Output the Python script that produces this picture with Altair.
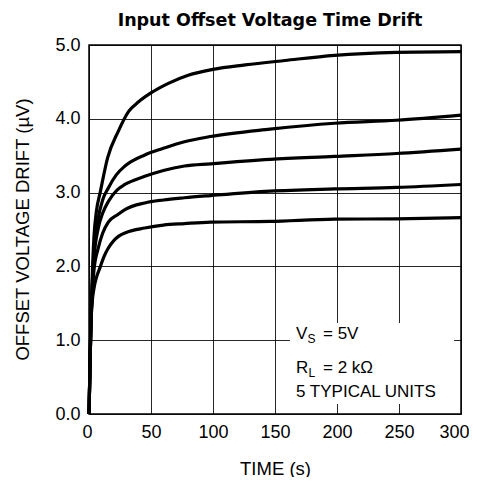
import altair as alt
import pandas as pd

# ---- data ----
t1 = [0, 1.5, 2.5, 4, 6, 9, 15, 23.6, 32, 40, 49, 64, 80, 100, 126, 158, 198, 248, 300]
v1 = [0, 1.2, 1.8, 2.4, 2.75, 3.0, 3.47, 3.83, 4.1, 4.23, 4.34, 4.48, 4.59, 4.67, 4.73, 4.79, 4.86, 4.9, 4.91]

t2 = [0, 1.5, 2.5, 4, 7.5, 11, 15.5, 22, 29, 45, 60, 77, 98, 146, 198, 248, 300]
v2 = [0, 1.2, 1.7, 2.2, 2.66, 2.9, 3.06, 3.24, 3.36, 3.51, 3.60, 3.69, 3.76, 3.86, 3.94, 3.98, 4.05]

t3 = [0, 1.5, 2.5, 4, 7.5, 11, 15.6, 23, 29, 45, 60, 77, 98, 146, 198, 248, 300]
v3 = [0, 1.2, 1.65, 2.1, 2.52, 2.72, 2.88, 3.04, 3.11, 3.22, 3.30, 3.36, 3.39, 3.45, 3.49, 3.53, 3.59]

t4 = [0, 1.5, 2.5, 4, 7.5, 11, 15.6, 23, 29, 45, 60, 77, 98, 146, 198, 248, 300]
v4 = [0, 1.2, 1.6, 1.95, 2.25, 2.45, 2.60, 2.70, 2.77, 2.86, 2.90, 2.93, 2.96, 3.02, 3.05, 3.07, 3.11]

t5 = [0, 1.5, 2.5, 4, 6, 9, 12, 15.6, 20, 24, 30, 45, 60, 77, 98, 146, 198, 248, 300]
v5 = [0, 1.2, 1.5, 1.7, 1.85, 1.99, 2.13, 2.25, 2.35, 2.41, 2.46, 2.52, 2.56, 2.58, 2.60, 2.61, 2.64, 2.645, 2.66]

units = ["Unit 1", "Unit 2", "Unit 3", "Unit 4", "Unit 5"]
x_ticks = [0, 50, 100, 150, 200, 250, 300]
y_ticks = [0, 1, 2, 3, 4, 5]
title_text = "Input Offset Voltage Time Drift"

frames = []
for name, t, v in zip(units, [t1, t2, t3, t4, t5], [v1, v2, v3, v4, v5]):
    frames.append(pd.DataFrame({"time": t, "drift": v, "unit": name}))
df = pd.concat(frames, ignore_index=True)

FONT = "Liberation Sans"

x = alt.X("time:Q", scale=alt.Scale(domain=[0, 300], nice=False),
          axis=alt.Axis(values=x_ticks, title="TIME (s)", labelPadding=9,
                        labelOffset={"expr": "datum.value == 300 ? -7 : (datum.value == 0 ? -2 : 0)"},
                        titleX=186, titleY=60, titleBaseline="alphabetic",
                        labelFlush=False))
y = alt.Y("drift:Q", scale=alt.Scale(domain=[0, 5], nice=False),
          axis=alt.Axis(values=y_ticks, format=".1f", title="OFFSET VOLTAGE DRIFT (µV)",
                        labelPadding=9, titleX=-61, titleY=184,
                        titleBaseline="alphabetic", labelFlush=False))

lines = alt.Chart(df).mark_line(color="black", strokeWidth=3.2, interpolate="monotone").encode(
    x=x, y=y, detail="unit:N")

one = pd.DataFrame({"a": [0]})
box = alt.Chart(one).mark_rect(color="white").encode(
    x=alt.value(201), x2=alt.value(365), y=alt.value(278), y2=alt.value(359))


def txt(s, px, py, size=17, font=FONT, weight="normal", align="left"):
    return alt.Chart(one).mark_text(text=s, align=align, baseline="alphabetic",
                                    font=font, fontSize=size, fontWeight=weight,
                                    color="black").encode(
        x=alt.value(px), y=alt.value(py))


ann = [
    txt("V", 207, 294), txt("S", 218.5, 298, 12), txt("= 5V", 234, 294),
    txt("R", 207, 328), txt("L", 219.5, 332, 12), txt("= 2 kΩ", 234, 328),
    txt("5 TYPICAL UNITS", 207, 352),
    txt(title_text, 181, -19, 17.5, "DejaVu Sans", "bold", "center"),
]

chart = alt.layer(box, lines, *ann).properties(
    width=372, height=369,
    autosize=alt.AutoSizeParams(type="none"),
    padding={"left": 81, "top": 37, "right": 8, "bottom": 63},
).configure_view(stroke="black", strokeWidth=1.5).configure_axis(
    grid=True, gridColor="black", gridWidth=1, gridOpacity=0.85, domain=False, ticks=False,
    labelFont=FONT, labelFontSize=18, labelColor="black",
    titleFont=FONT, titleFontSize=18.5, titleFontWeight="normal", titleColor="black",
)

chart.save("out.html", embed_options={"renderer": "svg", "actions": False})
